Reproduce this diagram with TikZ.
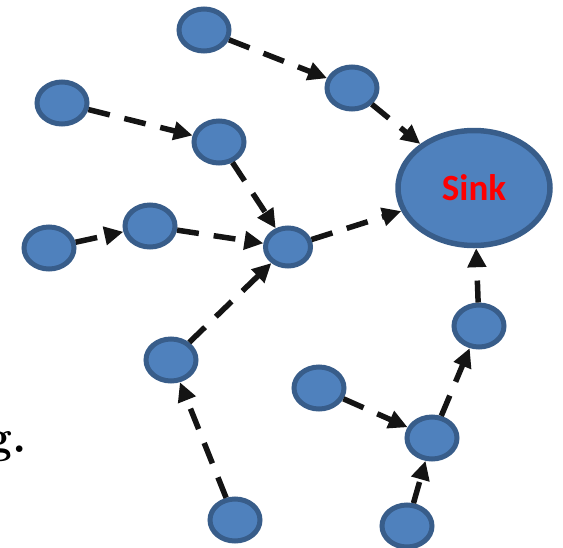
\documentclass[tikz,border=0pt]{standalone}
\usepackage{fontspec}
\newfontfamily\calibri{Carlito}
\usetikzlibrary{shapes.geometric,arrows.meta}
\definecolor{nodefill}{HTML}{4F81BD}
\definecolor{nodeline}{HTML}{385D8A}
\definecolor{sinkred}{HTML}{FF0000}
\definecolor{edgeblack}{HTML}{141414}
\tikzset{
  sensor/.style={ellipse, draw=nodeline, fill=nodefill, line width=5pt,
    minimum width=50pt, minimum height=42pt, inner sep=0pt},
  hubnode/.style={sensor, minimum width=45pt, minimum height=38pt},
  sinknode/.style={ellipse, draw=nodeline, fill=nodefill, line width=5.5pt,
    minimum width=152pt, minimum height=115pt, inner sep=0pt,
    text=sinkred, font=\calibri\bfseries\fontsize{37}{40}\selectfont},
  edge/.style={line width=5.5pt, draw=edgeblack, dash pattern=on 22pt off 15pt,
    -{Triangle[length=19pt,width=18pt]}},
}
\begin{document}
\begin{tikzpicture}[x=1pt,y=-1pt]
\useasboundingbox (0,0) rectangle (563,547);
\node[sinknode] (S) at (474,188) {Sink};
\node[sensor] (A) at (204,30) {};
\node[sensor] (B) at (352,88) {};
\node[sensor] (C) at (62,103) {};
\node[sensor] (D) at (219,142) {};
\node[sensor] (E) at (49,248) {};
\node[sensor] (F) at (150,226) {};
\node[hubnode] (G) at (288,247) {};
\node[sensor] (H) at (171,360) {};
\node[sensor] (I) at (479,326) {};
\node[sensor] (J) at (319,388) {};
\node[sensor] (K) at (432,438) {};
\node[sensor] (L) at (235,520) {};
\node[sensor] (M) at (407,526) {};
\node[anchor=base east, inner sep=0pt, font=\bfseries\fontsize{46}{50}\selectfont] (txt) at (27,452) {g.};
\draw[edge] (A) -- (B);
\draw[edge] (B) -- (S);
\draw[edge] (C) -- (D);
\draw[edge] (D) -- (G);
\draw[edge] (E) -- (F);
\draw[edge] (F) -- (G);
\draw[edge] (G) -- (S);
\draw[edge] (H) -- (G);
\draw[edge] (L) -- (H);
\draw[edge] (J) -- (K);
\draw[edge] (M) -- (K);
\draw[edge] (K) -- (I);
\draw[edge] (I) -- (S);
\end{tikzpicture}
\end{document}
